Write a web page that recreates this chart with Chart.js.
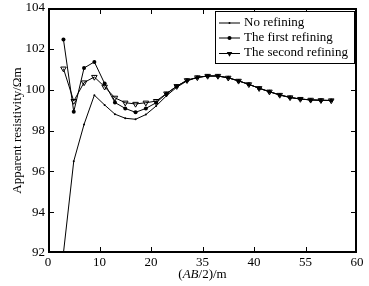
<!DOCTYPE html>
<html>
<head>
<meta charset="utf-8">
<script src="https://cdn.jsdelivr.net/npm/chart.js@4.4.1/dist/chart.umd.min.js"></script>
<style>
  html, body { margin: 0; padding: 0; background: #fff; }
  #wrap { width: 369px; height: 286px; position: relative; }
</style>
</head>
<body>
<div id="wrap"><canvas id="chart"></canvas></div>
<script>
// AB/2 spacing (m)
const spacing = [3, 5, 7, 9, 11, 13, 15, 17, 19, 21, 23, 25, 27, 29, 31, 33, 35, 37, 39, 41, 43, 45, 47, 49, 51, 53, 55];

// apparent resistivity (Ohm m)
const noRefining = [92.0, 96.5, 98.3, 99.73, 99.25, 98.8, 98.6, 98.55, 98.78, 99.2,
  99.7, 100.12, 100.43, 100.6, 100.67, 100.67, 100.58, 100.43, 100.26, 100.07, 99.9, 99.74, 99.62, 99.54, 99.5, 99.48, 99.47];
const firstRefining = [102.46, 98.92, 101.06, 101.36, 100.3, 99.37, 99.08, 98.89, 99.08, 99.36,
  99.8, 100.17, 100.46, 100.6, 100.67, 100.67, 100.58, 100.43, 100.26, 100.07, 99.9, 99.74, 99.62, 99.54, 99.5, 99.48, 99.47];
const secondRefining = [101.03, 99.44, 100.35, 100.62, 100.14, 99.6, 99.36, 99.3, 99.36, 99.44,
  99.81, 100.17, 100.46, 100.6, 100.67, 100.67, 100.58, 100.43, 100.26, 100.07, 99.9, 99.74, 99.62, 99.54, 99.5, 99.48, 99.47];

const seriesNames = ["No refining", "The first refining", "The second refining"];
const xTickLabels = ["0", "10", "20", "35", "40", "55", "60"];

const serif = "'Liberation Serif', 'Times New Roman', serif";

// box + inward ticks on all four sides
const framePlugin = {
  id: "boxFrame",
  afterDraw(chart) {
    const ctx = chart.ctx, a = chart.chartArea;
    const xs = chart.scales.x, ys = chart.scales.y;
    const w = 2;
    const L = Math.round(a.left), R = Math.round(a.right) - w;
    const T = Math.round(a.top), B = Math.round(a.bottom) - w;
    ctx.save();
    ctx.fillStyle = "#000";
    ctx.fillRect(L, T, R - L + w, w);
    ctx.fillRect(L, B, R - L + w, w);
    ctx.fillRect(L, T, w, B - T + w);
    ctx.fillRect(R, T, w, B - T + w);
    xs.ticks.forEach(t => {
      const px = Math.min(Math.round(xs.getPixelForValue(t.value)), R);
      ctx.fillRect(px, B - 4, 1, 4);
      ctx.fillRect(px, T + w, 1, 4);
    });
    ys.ticks.forEach(t => {
      const py = Math.min(Math.round(ys.getPixelForValue(t.value)), B);
      ctx.fillRect(L + w, py, 4, 1);
      ctx.fillRect(R - 4, py, 4, 1);
    });
    ctx.restore();
  }
};

// x title with italic AB
const xTitlePlugin = {
  id: "xTitle",
  afterDraw(chart) {
    const { ctx, chartArea: a } = chart;
    const parts = [["(", ""], ["AB", "italic "], ["/2)/m", ""]];
    ctx.save();
    ctx.fillStyle = "#000";
    ctx.textBaseline = "middle";
    ctx.textAlign = "left";
    let total = 0;
    parts.forEach(p => { ctx.font = p[1] + "13px " + serif; total += ctx.measureText(p[0]).width; });
    let cx = (a.left + a.right) / 2 - total / 2;
    parts.forEach(p => {
      ctx.font = p[1] + "13px " + serif;
      ctx.fillText(p[0], cx, 275);
      cx += ctx.measureText(p[0]).width;
    });
    ctx.restore();
  }
};

// boxed legend in the upper right
const legendPlugin = {
  id: "boxLegend",
  afterDraw(chart) {
    const { ctx } = chart;
    const bx = 215.5, by = 11.5, bw = 139, bh = 52;
    ctx.save();
    ctx.fillStyle = "#fff";
    ctx.fillRect(bx, by, bw, bh);
    ctx.strokeStyle = "#000";
    ctx.lineWidth = 1;
    ctx.strokeRect(bx, by, bw, bh);
    ctx.font = "13px " + serif;
    ctx.textBaseline = "middle";
    ctx.textAlign = "left";
    ctx.fillStyle = "#000";
    const rows = [22.5, 37.5, 53];
    seriesNames.forEach((name, i) => {
      const yy = rows[i] + 0.5;
      ctx.beginPath();
      ctx.moveTo(219, yy); ctx.lineTo(240, yy);
      ctx.stroke();
      const mx = 229.5;
      if (i === 0) {
        ctx.beginPath(); ctx.arc(mx, yy, 1, 0, Math.PI * 2); ctx.fill();
      } else if (i === 1) {
        ctx.beginPath(); ctx.arc(mx, yy, 2, 0, Math.PI * 2); ctx.fill();
      } else {
        const r = 3.2;
        ctx.beginPath();
        ctx.moveTo(mx - r * 0.866, yy - r / 2);
        ctx.lineTo(mx + r * 0.866, yy - r / 2);
        ctx.lineTo(mx, yy + r);
        ctx.closePath();
        ctx.fill();
      }
      ctx.fillText(name, 244, rows[i]);
    });
    ctx.restore();
  }
};

new Chart(document.getElementById("chart"), {
  type: "line",
  data: {
    datasets: [
      {
        label: seriesNames[0],
        data: spacing.map((s, i) => ({ x: s, y: noRefining[i] })),
        borderColor: "#000", backgroundColor: "#000", borderWidth: 1,
        pointStyle: "circle", pointRadius: 1, pointBorderWidth: 0, tension: 0
      },
      {
        label: seriesNames[1],
        data: spacing.map((s, i) => ({ x: s, y: firstRefining[i] })),
        borderColor: "#000", backgroundColor: "#000", borderWidth: 1,
        pointStyle: "circle", pointRadius: 2, pointBorderWidth: 0, tension: 0
      },
      {
        label: seriesNames[2],
        data: spacing.map((s, i) => ({ x: s, y: secondRefining[i] })),
        borderColor: "#000", backgroundColor: "rgba(0,0,0,0)", borderWidth: 1,
        pointStyle: "triangle", pointRotation: 180, pointRadius: 3.2,
        pointBorderColor: "#000", pointBackgroundColor: "rgba(0,0,0,0)", pointBorderWidth: 1, tension: 0
      }
    ]
  },
  options: {
    responsive: true,
    maintainAspectRatio: false,
    animation: false,
    layout: { padding: { top: 8, right: 12, left: 0, bottom: 0 } },
    plugins: {
      legend: { display: false },
      tooltip: { enabled: false }
    },
    scales: {
      x: {
        type: "linear",
        min: 0, max: 60,
        afterFit: s => { s.height = 33; s.paddingLeft = 0; s.paddingRight = 0; },
        ticks: {
          stepSize: 10,
          padding: 2,
          color: "#000",
          font: { family: serif, size: 13 },
          maxRotation: 0,
          callback: (v, i) => xTickLabels[i]
        },
        grid: { display: false, drawTicks: false },
        border: { display: false }
      },
      y: {
        min: 92, max: 104,
        afterFit: s => { s.width = 48; s.paddingTop = 0; s.paddingBottom = 0; },
        ticks: {
          stepSize: 2,
          padding: 3,
          color: "#000",
          font: { family: serif, size: 13 }
        },
        grid: { display: false, drawTicks: false },
        border: { display: false },
        title: {
          display: true,
          text: "Apparent resistivity/Ωm",
          color: "#000",
          font: { family: serif, size: 13 },
          padding: { top: 10, bottom: 0 }
        }
      }
    }
  },
  plugins: [framePlugin, xTitlePlugin, legendPlugin]
});
</script>
</body>
</html>
